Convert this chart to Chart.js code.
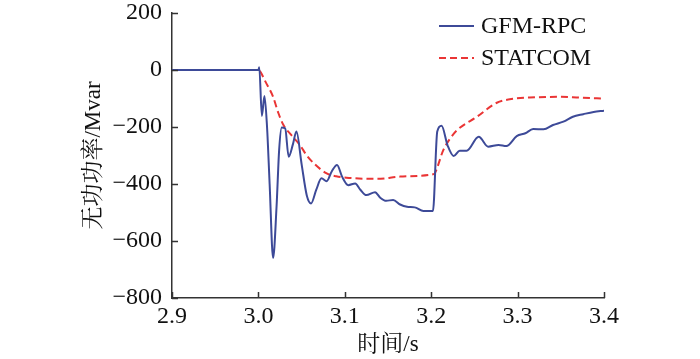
<!DOCTYPE html>
<html><head><meta charset="utf-8">
<script src="https://cdn.jsdelivr.net/npm/chart.js@4/dist/chart.umd.min.js"></script>
<style>html,body{margin:0;padding:0;background:#fff}#wrap{width:700px;height:359px}</style>
</head><body><div id="wrap"><canvas id="c" width="700" height="359"></canvas></div>
<script>
const seriesNames = ["GFM-RPC", "STATCOM"];
const gfmT = [2.9, 3.0, 3.001, 3.004, 3.007, 3.010, 3.013, 3.017, 3.021, 3.024, 3.027, 3.031, 3.035, 3.040, 3.044, 3.050, 3.056, 3.061, 3.067, 3.073, 3.079, 3.085, 3.091, 3.097, 3.104, 3.112, 3.118, 3.125, 3.135, 3.141, 3.148, 3.156, 3.164, 3.172, 3.181, 3.191, 3.202, 3.207, 3.212, 3.219, 3.226, 3.233, 3.241, 3.255, 3.266, 3.278, 3.287, 3.299, 3.309, 3.318, 3.330, 3.341, 3.353, 3.364, 3.376, 3.388, 3.4];
const gfmQ = [0, 0, 10, -161, -91, -200, -400, -660, -480, -281, -202, -205, -304, -260, -216, -330, -440, -468, -420, -380, -390, -355, -333, -375, -404, -398, -420, -439, -429, -448, -459, -456, -472, -480, -482, -495, -495, -216, -196, -265, -302, -283, -283, -234, -269, -263, -267, -232, -222, -207, -208, -193, -181, -164, -155, -147, -143];
const stT = [2.9, 3.0, 3.002, 3.008, 3.017, 3.023, 3.029, 3.038, 3.048, 3.056, 3.064, 3.079, 3.090, 3.102, 3.137, 3.164, 3.202, 3.204, 3.214, 3.222, 3.230, 3.253, 3.276, 3.295, 3.320, 3.349, 3.372, 3.4];
const stQ = [0, 0, -5, -40, -94, -150, -193, -228, -263, -300, -327, -363, -373, -378, -382, -374, -366, -363, -281, -240, -211, -164, -115, -101, -96, -94, -97, -100];
const xTicks = [2.9, 3.0, 3.1, 3.2, 3.3, 3.4];
const yTicks = [-800, -600, -400, -200, 0, 200];
const xTitle = "时间/s";
const yTitle = "无功功率/Mvar";

const FONT = "'Liberation Serif', 'Noto Serif CJK SC', 'Noto Sans CJK SC', serif";
const AX = '#333333';
const toPts = (t, q) => t.map((v, i) => ({x: v, y: q[i]}));

const inwardTicks = {
  id: 'inwardTicks',
  afterDraw(chart) {
    const {ctx, chartArea: a, scales: {x, y}} = chart;
    ctx.save();
    ctx.strokeStyle = AX; ctx.lineWidth = 1.5;
    ctx.beginPath();
    xTicks.forEach(v => { const px = Math.round(x.getPixelForValue(v)) + 0.5; ctx.moveTo(px, a.bottom); ctx.lineTo(px, a.bottom - 6); });
    yTicks.forEach(v => { const py = Math.round(y.getPixelForValue(v)) + 0.5; ctx.moveTo(a.left, py); ctx.lineTo(a.left + 6, py); });
    ctx.stroke();
    ctx.restore();
  }
};
const legendPlugin = {
  id: 'legendIn',
  afterDraw(chart) {
    const ctx = chart.ctx;
    ctx.save();
    ctx.font = "24px " + FONT;
    ctx.textBaseline = 'middle';
    chart.data.datasets.forEach((ds, i) => {
      const yy = 26 + i * 32;
      ctx.strokeStyle = ds.borderColor; ctx.lineWidth = 2;
      ctx.setLineDash(ds.borderDash || []);
      ctx.beginPath(); ctx.moveTo(439, yy); ctx.lineTo(474, yy); ctx.stroke();
      ctx.setLineDash([]);
      ctx.fillStyle = '#111';
      ctx.fillText(ds.label, 481, yy + 1);
    });
    ctx.restore();
  }
};

new Chart(document.getElementById('c'), {
  type: 'line',
  data: {
    datasets: [
      {label: seriesNames[0], data: toPts(gfmT, gfmQ), borderColor: '#3d4a98', borderWidth: 2, pointRadius: 0, cubicInterpolationMode: 'monotone', fill: false},
      {label: seriesNames[1], data: toPts(stT, stQ), borderColor: '#ea3535', borderWidth: 2, borderDash: [7, 4], pointRadius: 0, cubicInterpolationMode: 'monotone', fill: false}
    ]
  },
  options: {
    responsive: false, animation: false, events: [],
    layout: {padding: {top: 13, right: 96, left: 80, bottom: 0}},
    plugins: {legend: {display: false}, tooltip: {enabled: false}},
    scales: {
      x: {
        type: 'linear', min: 2.9, max: 3.4,
        afterBuildTicks: s => { s.ticks = xTicks.map(v => ({value: v})); },
        afterFit: s => { s.height = 61; s.paddingLeft = 0; s.paddingRight = 0; },
        grid: {display: false, drawTicks: false},
        border: {color: AX, width: 1.5},
        ticks: {color: '#111', font: {family: FONT, size: 24}, padding: 4, maxRotation: 0, callback: v => v.toFixed(1)},
        title: {display: true, text: xTitle, color: '#111', font: {family: FONT, size: 23}, padding: {top: 6, bottom: 0}}
      },
      y: {
        min: -800, max: 200,
        afterBuildTicks: s => { s.ticks = yTicks.map(v => ({value: v})); },
        afterFit: s => { s.width = 92; s.paddingTop = 0; s.paddingBottom = 0; },
        grid: {display: false, drawTicks: false},
        border: {color: AX, width: 1.5},
        ticks: {color: '#111', font: {family: FONT, size: 24}, padding: 10, callback: v => String(v).replace('-', '\u2212')},
        title: {display: true, text: yTitle, color: '#111', font: {family: FONT, size: 23}, padding: {top: 0, bottom: 0}}
      }
    }
  },
  plugins: [inwardTicks, legendPlugin]
});
</script></body></html>
